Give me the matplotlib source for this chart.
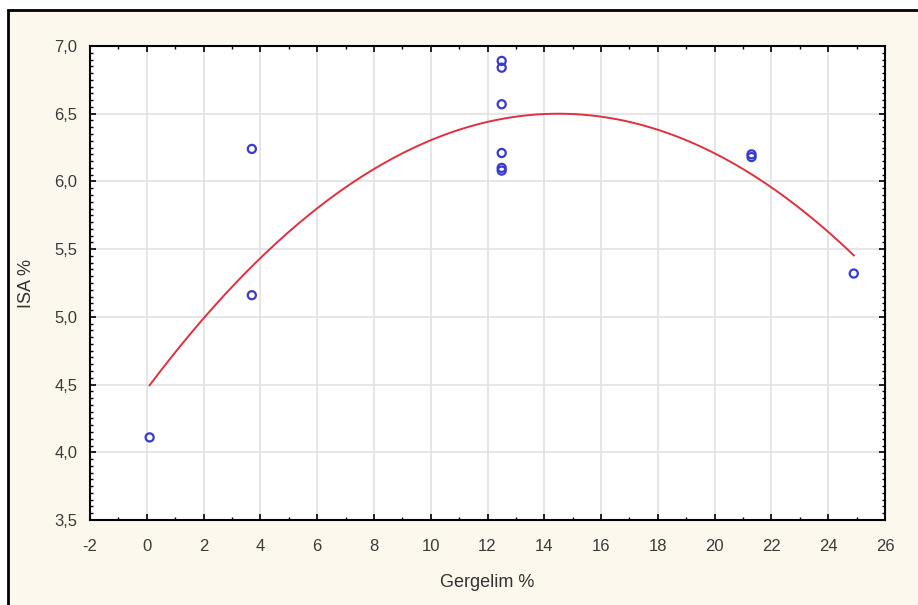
import numpy as np
import matplotlib
matplotlib.use("Agg")
import matplotlib.pyplot as plt
from matplotlib.ticker import MultipleLocator, FuncFormatter
from matplotlib.patches import Rectangle

plt.rcParams["axes.unicode_minus"] = False

# Data
gergelim = [0.1, 3.7, 3.7, 12.5, 12.5, 12.5, 12.5, 12.5, 12.5, 21.3, 21.3, 24.9]
isa = [4.11, 6.24, 5.16, 6.89, 6.84, 6.57, 6.21, 6.10, 6.08, 6.20, 6.18, 5.32]

# Fitted quadratic curve (vertex form)
curve_peak_x = 14.5
curve_peak_y = 6.50
curve_a = -0.00967
curve_x_range = [0.1, 24.9]

xticks = list(range(-2, 27, 2))
yticks = [3.5, 4.0, 4.5, 5.0, 5.5, 6.0, 6.5, 7.0]

W, H = 918, 605
fig = plt.figure(figsize=(W / 100, H / 100), dpi=100)
fig.patch.set_facecolor("white")
# cream panel with black outer border (right/bottom edges run off the image)
fig.patches.append(Rectangle((8 / W, -0.1), 1.2, 1.1 - 10 / H, transform=fig.transFigure,
                             facecolor="#fcf8ee", edgecolor="black", linewidth=2.0, zorder=-5))

ax = fig.add_axes([90 / W, 1 - 520 / H, (885 - 90) / W, (520 - 46) / H])
ax.set_zorder(2)
ax.set_facecolor("white")

cx = np.linspace(curve_x_range[0], curve_x_range[1], 200)
cy = curve_a * (cx - curve_peak_x) ** 2 + curve_peak_y
ax.plot(cx, cy, color="#e03040", linewidth=1.4, zorder=3)

ax.scatter(gergelim, isa, s=34, facecolors="none", edgecolors="#3a3ad0",
           linewidths=1.6, zorder=4)

ax.set_xlim(-2, 26)
ax.set_ylim(3.5, 7.0)
ax.set_xticks(xticks)
ax.set_yticks(yticks)
ax.xaxis.set_minor_locator(MultipleLocator(1))
ax.yaxis.set_minor_locator(MultipleLocator(0.05))
ax.yaxis.set_major_formatter(FuncFormatter(lambda v, p: f"{v:.1f}".replace(".", ",")))
ax.grid(True, which="major", color="#e2e2e2", linewidth=1.2)
ax.set_axisbelow(True)

for s in ax.spines.values():
    s.set_color("black")
    s.set_linewidth(1.5)

ax.tick_params(which="both", direction="in", top=True, right=True, color="black")
ax.tick_params(which="major", length=4, width=1.2, labelsize=12, labelcolor="#3a3a3a")
ax.tick_params(axis="x", which="major", pad=14)
ax.tick_params(axis="y", which="major", pad=9)
ax.tick_params(which="minor", length=2, width=1.0)

font = "Liberation Sans"
for lab in ax.get_xticklabels() + ax.get_yticklabels():
    lab.set_fontfamily(font)

ax.set_xlabel("Gergelim %", fontsize=13, family=font, color="#333333", labelpad=14)
ax.set_ylabel("ISA %", fontsize=13, family=font, color="#333333", labelpad=14)

fig.savefig("out.png", dpi=100)
